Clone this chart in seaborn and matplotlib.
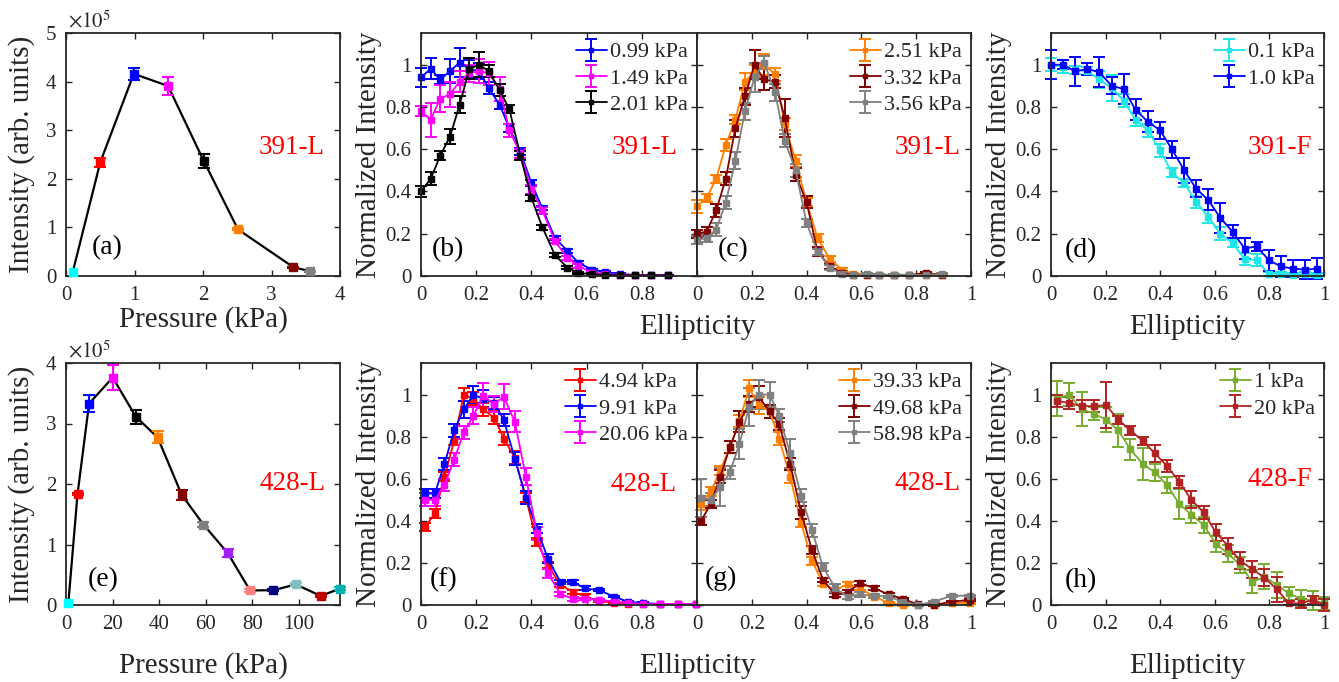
import numpy as np
import pandas as pd
import matplotlib
matplotlib.use("Agg")
import matplotlib.pyplot as plt
from matplotlib.ticker import FuncFormatter
import seaborn as sns

# ── data: intensity vs pressure (x1e5 arb. units) ────────────────────────────
P_A = [0.1, 0.5, 0.99, 1.49, 2.01, 2.51, 3.32, 3.56]
I_A = [0.09, 2.34, 4.16, 3.91, 2.37, 0.96, 0.18, 0.10]
ERR_A = [0.0, 0.09, 0.12, 0.19, 0.14, 0.02, 0.01, 0.01]
COL_A = ["#00FFFF", "#FF0000", "#0000FF", "#FF00FF", "#000000",
         "#FF8000", "#800000", "#808080"]

P_E = [1.0, 4.94, 9.91, 20.06, 30.0, 39.33, 49.68, 58.98, 69.4, 79.0,
       89.0, 98.7, 109.3, 117.6]
I_E = [0.03, 1.83, 3.33, 3.76, 3.11, 2.77, 1.82, 1.33, 0.86, 0.24,
       0.245, 0.34, 0.15, 0.27]
ERR_E = [0.0, 0.02, 0.14, 0.20, 0.11, 0.10, 0.08, 0.04, 0.07, 0.02,
         0.02, 0.02, 0.02, 0.02]
COL_E = ["#00FFFF", "#FF0000", "#0000FF", "#FF00FF", "#000000", "#FF8000",
         "#800000", "#808080", "#A020F0", "#FF8080", "#000080", "#80C0C0",
         "#C00000", "#00B0B0"]

# ── data: normalized intensity vs ellipticity ────────────────────────────────
X_BC = [0, 0.035, 0.07, 0.105, 0.14, 0.175, 0.21, 0.245, 0.285, 0.32, 0.36,
        0.40, 0.44, 0.485, 0.53, 0.57, 0.62, 0.665, 0.72, 0.775, 0.835, 0.895]

B_099 = [0.94, 0.98, 0.93, 0.97, 1.01, 0.98, 0.97, 0.89, 0.81, 0.70, 0.59,
         0.44, 0.32, 0.18, 0.12, 0.063, 0.03, 0.02, 0.01, 0.005, 0.004, 0.004]
E_B_099 = [0.045, 0.05, 0.02, 0.055, 0.07, 0.04, 0.04, 0.03, 0.02, 0.02, 0.015,
           0.015, 0.01, 0.01, 0.01, 0.008, 0.005, 0.004, 0.003, 0.002, 0.002, 0.002]
B_149 = [0.78, 0.74, 0.84, 0.86, 0.92, 0.96, 0.97, 0.96, 0.885, 0.69, 0.58,
         0.41, 0.31, 0.165, 0.087, 0.047, 0.016, 0.01, 0.006, 0.005, 0.004, 0.004]
E_B_149 = [0.025, 0.08, 0.065, 0.06, 0.05, 0.04, 0.055, 0.055, 0.055, 0.03, 0.02,
           0.02, 0.015, 0.01, 0.01, 0.008, 0.005, 0.004, 0.003, 0.002, 0.002, 0.002]
B_201 = [0.40, 0.46, 0.57, 0.66, 0.81, 0.98, 1.0, 0.97, 0.88, 0.79, 0.57,
         0.37, 0.23, 0.10, 0.04, 0.015, 0.008, 0.005, 0.004, 0.003, 0.003, 0.003]
E_B_201 = [0.025, 0.03, 0.02, 0.035, 0.04, 0.05, 0.06, 0.03, 0.03, 0.02, 0.02,
           0.015, 0.01, 0.01, 0.008, 0.005, 0.004, 0.003, 0.002, 0.002, 0.002, 0.002]

C_251 = [0.33, 0.37, 0.46, 0.62, 0.74, 0.92, 0.97, 1.0, 0.955, 0.72, 0.545,
         0.35, 0.18, 0.08, 0.03, 0.01, 0.006, 0.005, 0.005, 0.004, 0.004, 0.004]
E_C_251 = [0.03, 0.02, 0.02, 0.03, 0.02, 0.04, 0.03, 0.05, 0.03, 0.03, 0.03,
           0.02, 0.02, 0.015, 0.01, 0.005, 0.004, 0.003, 0.003, 0.002, 0.002, 0.002]
C_332 = [0.20, 0.21, 0.31, 0.46, 0.70, 0.85, 1.0, 0.93, 0.92, 0.75, 0.48,
         0.35, 0.115, 0.045, 0.015, 0.006, 0.005, 0.005, 0.004, 0.004, 0.015, 0.005]
E_C_332 = [0.02, 0.02, 0.03, 0.03, 0.04, 0.04, 0.07, 0.05, 0.03, 0.09, 0.03,
           0.03, 0.02, 0.01, 0.01, 0.005, 0.004, 0.003, 0.003, 0.002, 0.004, 0.002]
C_356 = [0.17, 0.18, 0.22, 0.347, 0.545, 0.78, 0.94, 1.01, 0.87, 0.64, 0.50,
         0.25, 0.115, 0.04, 0.008, 0.005, 0.01, 0.005, 0.007, 0.005, 0.005, 0.01]
E_C_356 = [0.02, 0.02, 0.03, 0.03, 0.04, 0.04, 0.07, 0.03, 0.04, 0.03, 0.03,
           0.02, 0.015, 0.01, 0.005, 0.004, 0.003, 0.003, 0.003, 0.002, 0.002, 0.003]

X_D = [0, 0.044, 0.089, 0.133, 0.177, 0.222, 0.266, 0.31, 0.355, 0.399, 0.443,
       0.488, 0.532, 0.576, 0.62, 0.665, 0.709, 0.753, 0.798, 0.842, 0.886, 0.93, 0.975]
D_01 = [1.0, 0.99, 0.975, 0.97, 0.93, 0.89, 0.83, 0.74, 0.69, 0.595, 0.49,
        0.44, 0.35, 0.28, 0.20, 0.155, 0.08, 0.075, 0.01, 0.01, 0.005, 0.01, 0.005]
E_D_01 = [0.03, 0.03, 0.02, 0.02, 0.04, 0.06, 0.03, 0.03, 0.03, 0.03, 0.02,
          0.02, 0.03, 0.03, 0.03, 0.02, 0.03, 0.03, 0.01, 0.01, 0.01, 0.01, 0.01]
D_10 = [1.0, 1.0, 0.968, 0.98, 0.965, 0.90, 0.885, 0.786, 0.73, 0.69, 0.60,
        0.50, 0.413, 0.36, 0.275, 0.21, 0.13, 0.14, 0.075, 0.045, 0.035, 0.03, 0.035]
E_D_10 = [0.07, 0.02, 0.07, 0.03, 0.07, 0.04, 0.07, 0.05, 0.05, 0.04, 0.04,
          0.06, 0.04, 0.05, 0.07, 0.03, 0.05, 0.02, 0.05, 0.05, 0.04, 0.045, 0.05]

X_FG = [0.015, 0.05, 0.085, 0.12, 0.155, 0.19, 0.225, 0.265, 0.30, 0.34, 0.38,
        0.42, 0.46, 0.505, 0.55, 0.595, 0.645, 0.70, 0.75, 0.805, 0.865, 0.93, 0.995]
F_494 = [0.37, 0.435, 0.61, 0.78, 1.0, 0.98, 0.93, 0.89, 0.79, 0.70, 0.51,
         0.30, 0.19, 0.095, 0.063, 0.04, 0.02, 0.01, 0.006, 0.005, 0.005, 0.005, 0.005]
E_F_494 = [0.02, 0.02, 0.02, 0.02, 0.03, 0.03, 0.03, 0.03, 0.03, 0.03, 0.02,
           0.02, 0.015, 0.01, 0.01, 0.01, 0.005, 0.004, 0.003, 0.002, 0.002, 0.002, 0.002]
F_991 = [0.53, 0.53, 0.67, 0.83, 0.93, 1.0, 0.98, 0.96, 0.88, 0.695, 0.51,
         0.363, 0.22, 0.11, 0.11, 0.079, 0.07, 0.04, 0.015, 0.01, 0.005, 0.005, 0.005]
E_F_991 = [0.02, 0.02, 0.03, 0.03, 0.04, 0.04, 0.04, 0.03, 0.03, 0.03, 0.03,
           0.02, 0.02, 0.01, 0.01, 0.01, 0.005, 0.004, 0.003, 0.002, 0.002, 0.002, 0.002]
F_2006 = [0.50, 0.50, 0.57, 0.69, 0.82, 0.90, 0.995, 0.955, 0.99, 0.87, 0.61,
          0.34, 0.15, 0.052, 0.03, 0.03, 0.025, 0.015, 0.01, 0.005, 0.005, 0.005, 0.005]
E_F_2006 = [0.03, 0.03, 0.03, 0.03, 0.03, 0.04, 0.06, 0.04, 0.06, 0.05, 0.04,
            0.03, 0.02, 0.01, 0.01, 0.005, 0.004, 0.003, 0.003, 0.002, 0.002, 0.002, 0.002]

G_3933 = [0.48, 0.54, 0.64, 0.75, 0.875, 1.03, 0.95, 0.92, 0.79, 0.61, 0.39,
          0.21, 0.10, 0.07, 0.10, 0.08, 0.04, 0.01, 0.0, 0.002, 0.002, 0.01, 0.01]
E_G_3933 = [0.03, 0.02, 0.02, 0.03, 0.03, 0.04, 0.04, 0.03, 0.03, 0.03, 0.02,
            0.02, 0.01, 0.01, 0.01, 0.01, 0.005, 0.004, 0.003, 0.002, 0.002, 0.003, 0.003]
G_4968 = [0.40, 0.48, 0.61, 0.75, 0.87, 0.955, 0.99, 0.92, 0.86, 0.67, 0.44,
          0.26, 0.12, 0.047, 0.06, 0.105, 0.08, 0.05, 0.03, 0.003, 0.0, 0.016, 0.024]
E_G_4968 = [0.02, 0.02, 0.03, 0.03, 0.05, 0.04, 0.05, 0.03, 0.03, 0.03, 0.03,
            0.02, 0.01, 0.01, 0.01, 0.01, 0.01, 0.005, 0.005, 0.003, 0.003, 0.004, 0.004]
G_5898 = [0.51, 0.50, 0.56, 0.63, 0.766, 0.94, 1.0, 1.0, 0.90, 0.72, 0.52,
          0.355, 0.18, 0.08, 0.04, 0.05, 0.044, 0.04, 0.016, 0.0, 0.016, 0.044, 0.044]
E_G_5898 = [0.09, 0.03, 0.09, 0.03, 0.07, 0.09, 0.07, 0.06, 0.03, 0.07, 0.03,
            0.03, 0.02, 0.02, 0.01, 0.01, 0.01, 0.005, 0.005, 0.003, 0.004, 0.005, 0.005]

X_H = [0.022, 0.067, 0.112, 0.157, 0.202, 0.246, 0.291, 0.336, 0.381, 0.425, 0.47,
       0.514, 0.559, 0.604, 0.648, 0.693, 0.738, 0.782, 0.827, 0.871, 0.916, 0.961, 1.0]
H_1 = [0.98, 1.0, 0.93, 0.91, 0.88, 0.83, 0.74, 0.67, 0.63, 0.57, 0.48,
       0.43, 0.38, 0.29, 0.245, 0.19, 0.11, 0.134, 0.095, 0.055, 0.03, 0.02, 0.008]
E_H_1 = [0.083, 0.055, 0.08, 0.03, 0.06, 0.077, 0.05, 0.075, 0.04, 0.04, 0.07,
         0.04, 0.04, 0.04, 0.04, 0.04, 0.055, 0.06, 0.06, 0.03, 0.04, 0.045, 0.03]
H_20 = [0.97, 0.96, 0.945, 0.945, 0.95, 0.88, 0.83, 0.78, 0.72, 0.66, 0.585,
        0.50, 0.44, 0.345, 0.28, 0.21, 0.17, 0.13, 0.075, 0.008, 0.008, 0.025, 0.0]
E_H_20 = [0.03, 0.03, 0.03, 0.03, 0.11, 0.02, 0.02, 0.02, 0.04, 0.03, 0.03,
          0.04, 0.03, 0.04, 0.04, 0.04, 0.04, 0.04, 0.06, 0.01, 0.02, 0.02, 0.03]

# ── style ────────────────────────────────────────────────────────────────────
sns.set_theme(style="ticks")
plt.rcParams["font.family"] = ["Liberation Serif", "DejaVu Serif"]
plt.rcParams["mathtext.fontset"] = "stix"
plt.rcParams["axes.edgecolor"] = "#262626"
plt.rcParams["axes.linewidth"] = 1.3

TICK_FS, LABEL_FS, LEG_FS, NOTE_FS = 15, 21, 16, 19.5
fmt = FuncFormatter(lambda v, p: f"{v:g}")

W, H = 1339, 682
fig = plt.figure(figsize=(W / 100, H / 100), dpi=100)

def add_ax(left, top, right, bottom):
    return fig.add_axes([left / W, 1 - bottom / H, (right - left) / W, (bottom - top) / H])

cols = [(66, 340), (421, 697), (697, 971), (1051, 1324)]
rows = [(33, 276), (363, 605)]
axs = [[add_ax(c[0], r[0], c[1], r[1]) for c in cols] for r in rows]

def style(ax, xlim, ylim, xticks, yticks, ylabels=True):
    ax.set_xlim(*xlim); ax.set_ylim(*ylim)
    ax.set_xticks(xticks); ax.set_yticks(yticks)
    ax.xaxis.set_major_formatter(fmt); ax.yaxis.set_major_formatter(fmt)
    ax.tick_params(direction="in", length=4.5, width=1.0, top=True, right=True,
                   labelsize=TICK_FS, pad=7, colors="#262626", labelcolor="#262626")
    if not ylabels:
        ax.tick_params(labelleft=False)
    for s in ax.spines.values():
        s.set_visible(True)

def note(ax, txt, x, y, letter, lx, ly):
    ax.text(x, y, txt, transform=ax.transAxes, color="#FF0000", fontsize=NOTE_FS,
            ha="right", va="center")
    ax.text(lx, ly, letter, transform=ax.transAxes, color="black", fontsize=20,
            ha="left", va="center")

def pressure_panel(ax, p, inten, err, colors):
    df = pd.DataFrame({"p": p, "i": inten})
    sns.lineplot(data=df, x="p", y="i", color="black", lw=1.6, ax=ax, zorder=2)
    for xi, yi, ei, ci in zip(p, inten, err, colors):
        ax.errorbar(xi, yi, yerr=ei if ei > 0 else None, fmt="s", color=ci, ms=6,
                    mec=ci, capsize=4.5, elinewidth=1.5, capthick=1.5, zorder=3,
                    clip_on=False)
    ax.set_ylabel("Intensity (arb. units)", fontsize=LABEL_FS)
    ax.yaxis.set_label_coords(-0.113, 0.5)
    ax.text(0.008, 1.022, r"$\times10^{5}$", transform=ax.transAxes, fontsize=15,
            ha="left", va="baseline", color="#262626")

def ellip_panel(ax, x, series):
    for y, e, c, lab in series:
        ax.errorbar(x, y, yerr=e, fmt="-s", color=c, ms=5, mec=c, lw=1.3,
                    capsize=4.5, elinewidth=1.4, capthick=1.4, label=lab, clip_on=False)
    ax.legend(loc="upper right", frameon=False, fontsize=LEG_FS, handlelength=1.4,
              handletextpad=0.15, labelspacing=0.25, borderaxespad=0.2,
              markerscale=0.6, borderpad=0.2)

# ── (a) ──────────────────────────────────────────────────────────────────────
ax = axs[0][0]
pressure_panel(ax, P_A, I_A, ERR_A, COL_A)
style(ax, (0, 4), (0, 5), [0, 1, 2, 3, 4], [0, 1, 2, 3, 4, 5])
ax.set_xlabel("Pressure (kPa)", fontsize=LABEL_FS, va="baseline")
ax.xaxis.set_label_coords(0.5, -0.21)
note(ax, "391-L", 0.945, 0.53, "(a)", 0.095, 0.115)

# ── (b) ──────────────────────────────────────────────────────────────────────
ax = axs[0][1]
ellip_panel(ax, X_BC, [(B_099, E_B_099, "#0000FF", "0.99 kPa"),
                       (B_149, E_B_149, "#FF00FF", "1.49 kPa"),
                       (B_201, E_B_201, "#000000", "2.01 kPa")])
style(ax, (0, 1), (0, 1.15), [0, 0.2, 0.4, 0.6, 0.8], [0, 0.2, 0.4, 0.6, 0.8, 1])
ax.set_ylabel("Normalized Intensity", fontsize=LABEL_FS)
ax.yaxis.set_label_coords(-0.14, 0.5)
ax.set_xlabel("Ellipticity", fontsize=LABEL_FS, va="baseline")
ax.xaxis.set_label_coords(1.0, -0.239)
note(ax, "391-L", 0.93, 0.527, "(b)", 0.039, 0.11)

# ── (c) ──────────────────────────────────────────────────────────────────────
ax = axs[0][2]
ellip_panel(ax, X_BC, [(C_251, E_C_251, "#FF8000", "2.51 kPa"),
                       (C_332, E_C_332, "#800000", "3.32 kPa"),
                       (C_356, E_C_356, "#808080", "3.56 kPa")])
style(ax, (0, 1), (0, 1.15), [0, 0.2, 0.4, 0.6, 0.8, 1], [0, 0.2, 0.4, 0.6, 0.8, 1],
      ylabels=False)
note(ax, "391-L", 0.962, 0.527, "(c)", 0.077, 0.11)

# ── (d) ──────────────────────────────────────────────────────────────────────
ax = axs[0][3]
ellip_panel(ax, X_D, [(D_01, E_D_01, "#1EE6E6", "0.1 kPa"),
                      (D_10, E_D_10, "#0000FF", "1.0 kPa")])
style(ax, (0, 1), (0, 1.15), [0, 0.2, 0.4, 0.6, 0.8, 1], [0, 0.2, 0.4, 0.6, 0.8, 1])
ax.set_ylabel("Normalized Intensity", fontsize=LABEL_FS)
ax.yaxis.set_label_coords(-0.143, 0.5)
ax.set_xlabel("Ellipticity", fontsize=LABEL_FS, va="baseline")
ax.xaxis.set_label_coords(0.5, -0.239)
note(ax, "391-F", 0.955, 0.527, "(d)", 0.051, 0.103)

# ── (e) ──────────────────────────────────────────────────────────────────────
ax = axs[1][0]
pressure_panel(ax, P_E, I_E, ERR_E, COL_E)
style(ax, (0, 117.6), (0, 4), [0, 20, 40, 60, 80, 100], [0, 1, 2, 3, 4])
ax.set_xlabel("Pressure (kPa)", fontsize=LABEL_FS, va="baseline")
ax.xaxis.set_label_coords(0.5, -0.281)
note(ax, "428-L", 0.948, 0.5, "(e)", 0.081, 0.103)

# ── (f) ──────────────────────────────────────────────────────────────────────
ax = axs[1][1]
ellip_panel(ax, X_FG, [(F_494, E_F_494, "#FF0000", "4.94 kPa"),
                       (F_991, E_F_991, "#0000FF", "9.91 kPa"),
                       (F_2006, E_F_2006, "#FF00FF", "20.06 kPa")])
style(ax, (0, 1), (0, 1.15), [0, 0.2, 0.4, 0.6, 0.8], [0, 0.2, 0.4, 0.6, 0.8, 1])
ax.set_ylabel("Normalized Intensity", fontsize=LABEL_FS)
ax.yaxis.set_label_coords(-0.14, 0.5)
ax.set_xlabel("Ellipticity", fontsize=LABEL_FS, va="baseline")
ax.xaxis.set_label_coords(1.0, -0.281)
note(ax, "428-L", 0.926, 0.496, "(f)", 0.033, 0.103)

# ── (g) ──────────────────────────────────────────────────────────────────────
ax = axs[1][2]
ellip_panel(ax, X_FG, [(G_3933, E_G_3933, "#FF8000", "39.33 kPa"),
                       (G_4968, E_G_4968, "#800000", "49.68 kPa"),
                       (G_5898, E_G_5898, "#808080", "58.98 kPa")])
style(ax, (0, 1), (0, 1.15), [0, 0.2, 0.4, 0.6, 0.8, 1], [0, 0.2, 0.4, 0.6, 0.8, 1],
      ylabels=False)
note(ax, "428-L", 0.962, 0.503, "(g)", 0.03, 0.11)

# ── (h) ──────────────────────────────────────────────────────────────────────
ax = axs[1][3]
ellip_panel(ax, X_H, [(H_1, E_H_1, "#77AC30", "1 kPa"),
                      (H_20, E_H_20, "#B22222", "20 kPa")])
style(ax, (0, 1), (0, 1.15), [0, 0.2, 0.4, 0.6, 0.8, 1], [0, 0.2, 0.4, 0.6, 0.8, 1])
ax.set_ylabel("Normalized Intensity", fontsize=LABEL_FS)
ax.yaxis.set_label_coords(-0.143, 0.5)
ax.set_xlabel("Ellipticity", fontsize=LABEL_FS, va="baseline")
ax.xaxis.set_label_coords(0.5, -0.281)
note(ax, "428-F", 0.955, 0.517, "(h)", 0.051, 0.1)

fig.savefig("out.png", dpi=100)
